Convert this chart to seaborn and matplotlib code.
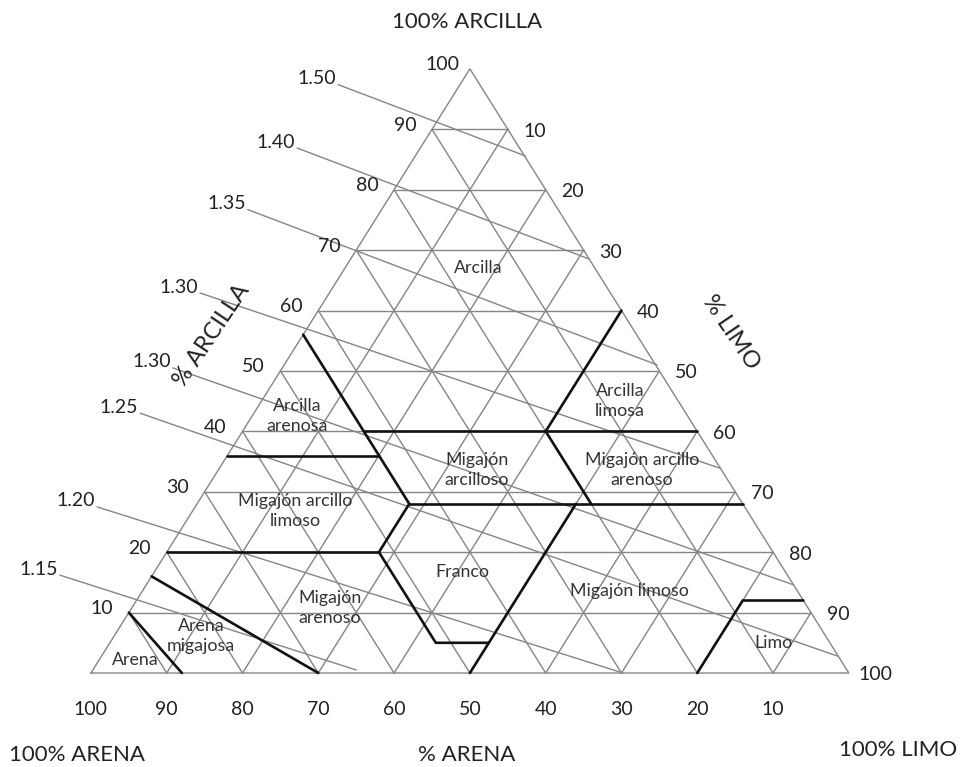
import numpy as np
import pandas as pd
import matplotlib
matplotlib.use("Agg")
import matplotlib.pyplot as plt
import seaborn as sns
from matplotlib.transforms import ScaledTranslation

# ------------------------------------------------------------------ data
grid_levels = [10, 20, 30, 40, 50, 60, 70, 80, 90]
clay_ticks = [10, 20, 30, 40, 50, 60, 70, 80, 90, 100]
silt_ticks = [10, 20, 30, 40, 50, 60, 70, 80, 90, 100]
sand_ticks = [100, 90, 80, 70, 60, 50, 40, 30, 20, 10]

# texture class boundaries, vertices given as (sand %, clay %)
b_arcilla_arenosa = [(44, 56), (44, 28)]
b_clay40 = [(44, 40), (0, 40)]
b_clay36 = [(64, 36), (44, 36)]
b_clay28 = [(44, 28), (0, 28)]
b_silt40 = [(0, 60), (20, 40)]
b_sand20 = [(20, 40), (20, 28)]
b_franco = [(44, 28), (52, 20), (52, 5), (45, 5)]
b_clay20 = [(80, 20), (52, 20)]
b_silt50 = [(50, 0), (22, 28)]
b_limo = [(20, 0), (8, 12), (0, 12)]
b_arena = [(90, 10), (88, 0)]
b_arena_migajosa = [(84, 16), (70, 0)]

# bulk density lines (start / end in chart units: x along base, y = clay %)
density_labels = ["1.50", "1.40", "1.35", "1.30", "1.30", "1.25", "1.20", "1.15"]
density_x0 = [32.6, 27.2, 20.7, 14.4, 10.8, 6.5, 0.8, -4.1]
density_y0 = [97.4, 86.9, 76.7, 62.9, 50.5, 43.0, 27.5, 16.2]
density_x1 = [57.3, 65.8, 74.7, 83.0, 92.7, 98.5, 70.2, 35.0]
density_y1 = [85.6, 68.5, 51.0, 33.9, 14.6, 2.8, 0.0, 0.5]

# texture class names and their label positions (sand %, clay %)
class_names = ["Arcilla", "Arcilla\nlimosa", "Arcilla\narenosa", "Migajón\narcilloso",
               "Migajón arcillo\narenoso", "Migajón arcillo\nlimoso", "Franco",
               "Migajón limoso", "Migajón\narenoso", "Arena\nmigajosa", "Arena", "Limo"]
class_sand = [15.3, 7.7, 51.5, 32.3, 10.5, 59.7, 42.6, 22.1, 63.1, 82.4, 93.1, 7.5]
class_clay = [67.1, 45.0, 42.5, 33.6, 33.6, 26.8, 16.7, 13.6, 10.8, 6.1, 2.2, 5.0]


def tx(sand, clay):
    return 100 - sand - clay / 2.0, clay


# ------------------------------------------------------------------ frames
def seg_frame(segments):
    rows = []
    for i, seg in enumerate(segments):
        for (s, c) in seg:
            x, y = tx(s, c)
            rows.append({"x": x, "y": y, "seg": i})
    return pd.DataFrame(rows)


grid_segs = []
for v in grid_levels:
    grid_segs.append([(100 - v, v), (0, v)])          # constant clay
    grid_segs.append([(v, 0), (v, 100 - v)])          # constant sand
    grid_segs.append([(100 - v, 0), (0, 100 - v)])    # constant silt
grid_segs.append([(100, 0), (0, 0), (0, 100), (100, 0)])  # outline
grid_df = seg_frame(grid_segs)

bound_df = seg_frame([b_arcilla_arenosa, b_clay40, b_clay36, b_clay28, b_silt40,
                      b_sand20, b_franco, b_clay20, b_silt50, b_limo, b_arena,
                      b_arena_migajosa])

dens_rows = []
for i in range(len(density_labels)):
    dens_rows.append({"x": density_x0[i], "y": density_y0[i], "seg": i})
    dens_rows.append({"x": density_x1[i], "y": density_y1[i], "seg": i})
dens_df = pd.DataFrame(dens_rows)

# ------------------------------------------------------------------ figure
sns.set_theme(style="white")
plt.rcParams["font.family"] = ["Lato", "DejaVu Sans"]

fig = plt.figure(figsize=(9.61, 7.67), dpi=100)
ax = fig.add_axes([0, 0, 1, 1])

GRAY = "#858585"
sns.lineplot(data=dens_df, x="x", y="y", units="seg", estimator=None, sort=False,
             color=GRAY, lw=1.0, ax=ax, legend=False)
sns.lineplot(data=grid_df, x="x", y="y", units="seg", estimator=None, sort=False,
             color=GRAY, lw=1.0, ax=ax, legend=False)
sns.lineplot(data=bound_df, x="x", y="y", units="seg", estimator=None, sort=False,
             color="#111111", lw=1.9, ax=ax, legend=False)
ax.set_xlim(-12.0, 114.8)
ax.set_ylim(-15.56, 111.4)
ax.axis("off")


def off(dx_px, dy_px):
    return ax.transData + ScaledTranslation(dx_px / 100.0, dy_px / 100.0, fig.dpi_scale_trans)


TXT = "#222222"
TICK_FS = 14
for c in clay_ticks:
    x, y = tx(100 - c, c)
    ax.text(x, y, str(c), ha="center", va="center", fontsize=TICK_FS, color=TXT,
            transform=off(-27, 4))
for s in silt_ticks:
    x, y = tx(0, 100 - s)
    ax.text(x, y, str(s), ha="center", va="center", fontsize=TICK_FS, color=TXT,
            transform=off(27, -2))
for s in sand_ticks:
    x, y = tx(s, 0)
    ax.text(x, y, str(s), ha="center", va="center", fontsize=TICK_FS, color=TXT,
            transform=off(0, -37))

for i, lab in enumerate(density_labels):
    ax.text(density_x0[i], density_y0[i], lab, ha="right", va="center",
            fontsize=TICK_FS, color=TXT, transform=off(-2, 6))

for name, s, c in zip(class_names, class_sand, class_clay):
    x, y = tx(s, c)
    ax.text(x, y, name, ha="center", va="center", fontsize=12.8, color="#333333",
            linespacing=1.3)

TITLE_FS = 16
W, H = 961.0, 767.0
fig.text(467 / W, 1 - 22 / H, "100% ARCILLA", ha="center", va="center",
         fontsize=TITLE_FS, color=TXT)
fig.text(77 / W, 1 - 755 / H, "100% ARENA", ha="center", va="center",
         fontsize=TITLE_FS, color=TXT)
fig.text(467 / W, 1 - 755 / H, "% ARENA", ha="center", va="center",
         fontsize=TITLE_FS, color=TXT)
fig.text(898 / W, 1 - 750 / H, "100% LIMO", ha="center", va="center",
         fontsize=TITLE_FS, color=TXT)
fig.text(212 / W, 1 - 335 / H, "% ARCILLA", ha="center", va="center",
         fontsize=TITLE_FS + 1, color=TXT, rotation=56, rotation_mode="anchor")
fig.text(731 / W, 1 - 332 / H, "% LIMO", ha="center", va="center",
         fontsize=TITLE_FS + 1, color=TXT, rotation=-56, rotation_mode="anchor")

fig.savefig("out.png", dpi=100, facecolor="white")
